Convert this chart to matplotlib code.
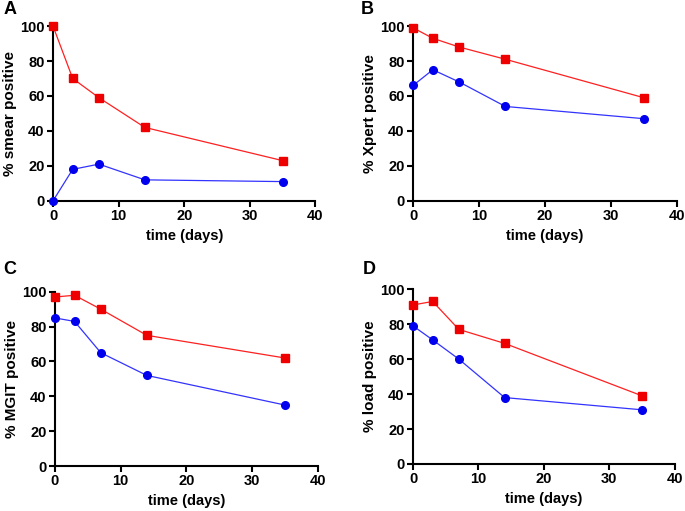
import matplotlib.pyplot as plt

plt.rcParams['font.family'] = ['Liberation Sans', 'DejaVu Sans']
plt.rcParams['font.weight'] = 'bold'

days = [0, 3, 7, 14, 35]

smear_red = [100, 70, 59, 42, 23]
smear_blue = [0, 18, 21, 12, 11]
xpert_red = [99, 93, 88, 81, 59]
xpert_blue = [66, 75, 68, 54, 47]
mgit_red = [97, 98, 90, 75, 62]
mgit_blue = [85, 83, 65, 52, 35]
load_red = [91, 93, 77, 69, 39]
load_blue = [79, 71, 60, 38, 31]

panels = [
    ('A', '% smear positive', smear_red, smear_blue, [0.0774, 0.607, 0.383, 0.342], (0.005, 0.982)),
    ('B', '% Xpert positive', xpert_red, xpert_blue, [0.603, 0.607, 0.385, 0.342], (0.527, 0.982)),
    ('C', '% MGIT positive', mgit_red, mgit_blue, [0.080, 0.088, 0.384, 0.341], (0.005, 0.472)),
    ('D', '% load positive', load_red, load_blue, [0.603, 0.092, 0.382, 0.342], (0.529, 0.472)),
]

fig = plt.figure(figsize=(6.85, 5.11), dpi=100)

for letter, ylabel, red, blue, rect, lpos in panels:
    ax = fig.add_axes(rect)
    ax.plot(days, red, color='#ff2020', lw=0.9, marker='s', ms=5.5,
            mfc='#ee0000', mec='#ee0000', clip_on=False, zorder=3)
    ax.plot(days, blue, color='#3333ff', lw=0.9, marker='o', ms=5.5,
            mfc='#0000ee', mec='#0000ee', clip_on=False, zorder=3)
    ax.set_xlim(0, 40)
    ax.set_ylim(0, 100)
    ax.set_xticks([0, 10, 20, 30, 40])
    ax.set_yticks([0, 20, 40, 60, 80, 100])
    for s in ['top', 'right']:
        ax.spines[s].set_visible(False)
    for s in ['left', 'bottom']:
        ax.spines[s].set_linewidth(1.5)
    ax.tick_params(width=1.5, length=4, labelsize=10.5, pad=2)
    for t in ax.get_xticklabels() + ax.get_yticklabels():
        t.set_fontweight('bold')
    ax.set_xlabel('time (days)', fontsize=10.5, fontweight='bold', labelpad=4)
    ax.set_ylabel(ylabel, fontsize=11, fontweight='bold', labelpad=2)
    fig.text(lpos[0], lpos[1], letter, fontsize=13, fontweight='bold', va='center', ha='left')

fig.savefig('out.png', dpi=100)
